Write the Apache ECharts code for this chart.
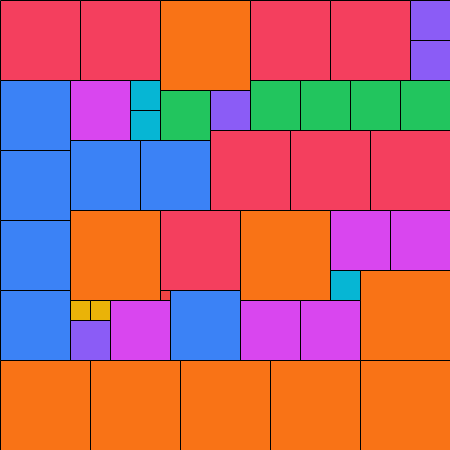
<!DOCTYPE html>
<html>
<head>
<meta charset="utf-8">
<script src="https://cdn.jsdelivr.net/npm/echarts@6/dist/echarts.min.js"></script>
<style>html,body{margin:0;padding:0;background:#fff}#c{width:450px;height:450px}</style>
</head>
<body>
<div id="c"></div>
<script>
// Square packing: position (in 10px units) and side length, colour group
var xs    = [0,8,16,25,33,41,41, 0,7,13,13,16,21,25,30,35,40, 0,7,14,21,29,37, 0,7,16,24,33,39,33,36, 0,7,9,7,16,11,17,24,30, 0,9,18,27,36];
var ys    = [0,0,0,0,0,0,4, 8,8,8,11,9,9,8,8,8,8, 15,14,14,13,13,13, 22,21,21,21,21,21,27,27, 29,30,30,32,29,30,29,30,30, 36,36,36,36,36];
var sizes = [8,8,9,8,8,4,4, 7,6,3,3,5,4,5,5,5,5, 7,7,7,8,8,8, 7,9,8,9,6,6,3,9, 7,2,2,4,1,6,7,6,6, 9,9,9,9,9];
var groups = ['rose','rose','orange','rose','rose','violet','violet',
  'blue','fuchsia','cyan','cyan','green','violet','green','green','green','green',
  'blue','blue','blue','rose','rose','rose',
  'blue','orange','rose','orange','fuchsia','fuchsia','cyan','orange',
  'blue','yellow','yellow','violet','red','fuchsia','blue','fuchsia','fuchsia',
  'orange','orange','orange','orange','orange'];
var palette = {rose:'#f43f5e', orange:'#f97316', blue:'#3b82f6', fuchsia:'#d946ef', cyan:'#06b6d4',
  green:'#22c55e', violet:'#8b5cf6', yellow:'#eab308', red:'#ef4444'};

var data = xs.map(function(x,i){ return [x, ys[i], sizes[i], i]; });
var chart = echarts.init(document.getElementById('c'), null, {renderer:'canvas'});
chart.setOption({
  animation:false,
  grid:{left:0,right:0,top:0,bottom:0},
  xAxis:{type:'value',min:0,max:45,show:false},
  yAxis:{type:'value',min:0,max:45,inverse:true,show:false},
  series:[{
    type:'custom',
    data:data,
    renderItem:function(params, api){
      var x = api.value(0), y = api.value(1), s = api.value(2), i = api.value(3);
      var p0 = api.coord([x, y]);
      var p1 = api.coord([x + s, y + s]);
      return {
        type:'rect',
        shape:{x:Math.round(p0[0])+0.5, y:Math.round(p0[1])+0.5, width:Math.round(p1[0]-p0[0]), height:Math.round(p1[1]-p0[1])},
        style:{fill:palette[groups[i]], stroke:'#000', lineWidth:1}
      };
    }
  }]
});
</script>
</body>
</html>
